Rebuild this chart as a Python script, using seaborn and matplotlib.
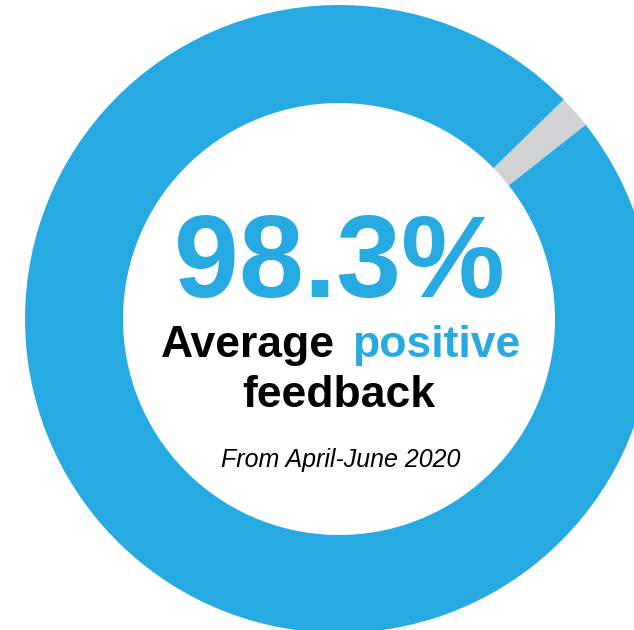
#!/usr/bin/env python3
# -*- coding: utf-8 -*-
"""
Donut chart: average positive feedback, April-June 2020.
"""

import matplotlib
matplotlib.use("Agg")
import matplotlib.pyplot as plt
import seaborn as sns

# data
CATEGORIES = ["Other", "Positive"]
SHARES = [1.7, 98.3]
HEADLINE = "98.3%"
PERIOD = "From April-June 2020"

BLUE = "#27AAE1"
GRAY = "#D1D2D4"


def main():
    sns.set_theme(style="white")
    plt.rcParams["font.family"] = ["Liberation Sans", "DejaVu Sans"]

    fig = plt.figure(figsize=(6.34, 6.30), dpi=100)
    ax = fig.add_axes([0, 0, 1, 1])

    # pixel-like coordinates, y going up
    cx, cy = 339, 311
    ax.pie(SHARES, colors=[GRAY, BLUE], startangle=38.2,
           center=(cx, cy), radius=314,
           wedgeprops=dict(width=98, linewidth=0))

    ax.set_xlim(0, 634)
    ax.set_ylim(0, 630)
    ax.set_aspect("equal")
    ax.axis("off")

    ax.text(cx, 333, HEADLINE, ha="center", va="baseline", color=BLUE,
            fontsize=84, fontweight="bold")
    ax.text(335, 273, "Average", ha="right", va="baseline", color="black",
            fontsize=32, fontweight="bold")
    ax.text(352, 273, "positive", ha="left", va="baseline", color=BLUE,
            fontsize=32, fontweight="bold")
    ax.text(cx, 223, "feedback", ha="center", va="baseline", color="black",
            fontsize=32, fontweight="bold")
    ax.text(cx + 2, 163, PERIOD, ha="center", va="baseline", color="black",
            fontsize=18, fontstyle="italic")

    fig.savefig("out.png", dpi=100, facecolor="white")
    plt.close(fig)


if __name__ == "__main__":
    main()
